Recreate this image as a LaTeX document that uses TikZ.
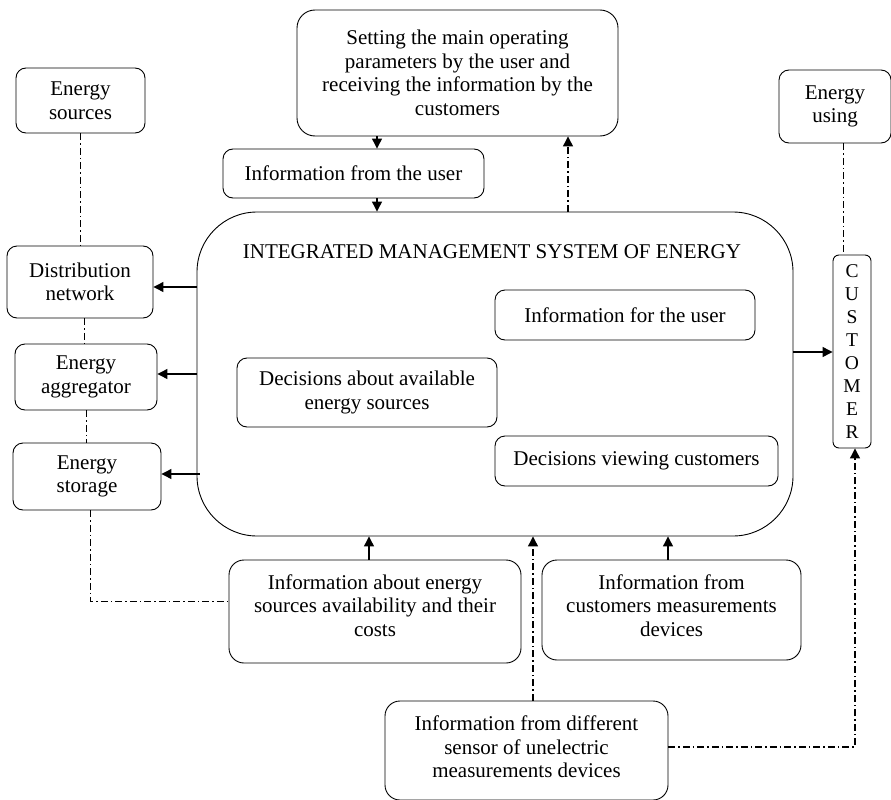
\documentclass[tikz,border=0pt]{standalone}
\usepackage{fontspec}
\setmainfont{Liberation Serif}
\usetikzlibrary{arrows.meta}
\begin{document}
\begin{tikzpicture}[x=1pt,y=-1pt,
  txt/.style={align=center, inner sep=0pt, font=\fontsize{21}{23.5}\selectfont},
  box/.style={txt, draw, line width=0.9pt, rounded corners=10pt},
  arr/.style={line width=1.2pt, -{Triangle[length=10pt,width=10pt]}},
  dd/.style={line width=0.8pt, dash pattern=on 7pt off 3pt on 1.5pt off 3pt},
  dda/.style={dd, line width=1.2pt, -{Triangle[length=10pt,width=10pt]}}]
\useasboundingbox (0,0) rectangle (891,800);
% nodes
\node[box, minimum width=129, minimum height=65] (sources) at (80.5,100.5) {Energy\\sources};
\node[box, minimum width=146, minimum height=72] (distr) at (80,282) {Distribution\\network};
\node[box, minimum width=142, minimum height=66] (aggr) at (86,377) {Energy\\aggregator};
\node[box, minimum width=148, minimum height=67] (stor) at (87,476.5) {Energy\\storage};
\node[box, rounded corners=18pt, minimum width=321, minimum height=126] (setting) at (457.5,73)
  {Setting the main operating\\parameters by the user and\\receiving the information by the\\customers};
\node[box, minimum width=261, minimum height=49] (infouser) at (353.5,173.5) {Information from the user};
\node[box, rounded corners=60pt, minimum width=596, minimum height=324] (main) at (495,374) {};
\node[txt] (title) at (492,252) {INTEGRATED MANAGEMENT SYSTEM OF ENERGY};
\node[box, minimum width=112, minimum height=73] (using) at (835,106.5) {Energy\\using};
\node[box, rounded corners=6pt, minimum width=38, minimum height=193,
  font=\fontsize{19.5}{22.9}\selectfont] (cust) at (852,351.5) {C\\U\\S\\T\\O\\M\\E\\R};
\node[box, minimum width=260, minimum height=50] (infofor) at (625,315) {Information for the user};
\node[box, minimum width=260, minimum height=69] (decav) at (367,392.5) {Decisions about available\\energy sources};
\node[box, minimum width=283, minimum height=50] (decview) at (636.5,461) {Decisions viewing customers};
\node[box, rounded corners=15pt, minimum width=292, minimum height=103] (infoab) at (375,611.5) {};
\node[txt] (infoabt) at (375,605.5) {Information about energy\\sources availability and their\\costs};
\node[box, rounded corners=15pt, minimum width=259, minimum height=100] (infocm) at (671.5,610) {};
\node[txt] (infocmt) at (671.5,605.5) {Information from\\customers measurements\\devices};
\node[box, rounded corners=15pt, minimum width=283, minimum height=99] (sensor) at (526.5,750.5) {};
\node[txt] (sensort) at (526.5,747) {Information from different\\sensor of unelectric\\measurements devices};
% helper coordinates
\coordinate (xa) at (377,0);
\coordinate (xb) at (568,0);
\coordinate (xc) at (369,0);
\coordinate (xd) at (668,0);
\coordinate (xe) at (533,0);
\coordinate (ya) at (0,287);
\coordinate (yb) at (0,374);
\coordinate (yc) at (0,474);
\coordinate (yd) at (0,352);
\coordinate (g) at (90,601);
\coordinate (h) at (855,747);
\coordinate (l1) at (80,0);
\coordinate (l2) at (84,0);
\coordinate (l3) at (86,0);
\coordinate (l4) at (843,0);
% connectors
\draw[arr] (setting.south -| xa) -- (infouser.north -| xa);
\draw[arr] (infouser.south -| xa) -- (main.north -| xa);
\draw[dda] (main.north -| xb) -- (setting.south -| xb);
\draw[arr] (main.west |- ya) -- (distr.east |- ya);
\draw[arr] (main.west |- yb) -- (aggr.east |- yb);
\draw[arr] ([xshift=3pt]main.west |- yc) -- (stor.east |- yc);
\draw[arr] (main.east |- yd) -- (cust.west |- yd);
\draw[arr] (infoab.north -| xc) -- (main.south -| xc);
\draw[arr] (infocm.north -| xd) -- (main.south -| xd);
\draw[dda] (sensor.north -| xe) -- (main.south -| xe);
\draw[dda] (sensor.east |- h) -| (cust.south -| h);
\draw[dd] (stor.south -| g) |- (infoab.west |- g);
\draw[dd] (sources.south -| l1) -- (distr.north -| l1);
\draw[dd] (distr.south -| l2) -- (aggr.north -| l2);
\draw[dd] (aggr.south -| l3) -- (stor.north -| l3);
\draw[dd] (using.south -| l4) -- (cust.north -| l4);
\end{tikzpicture}
\end{document}
